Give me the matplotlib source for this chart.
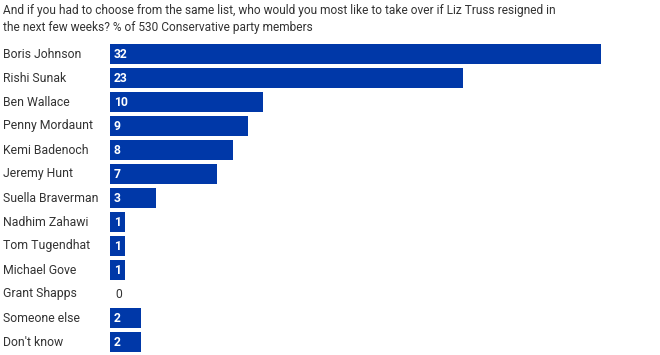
import matplotlib

matplotlib.use("Agg")
import matplotlib.pyplot as plt

names = [
    "Boris Johnson", "Rishi Sunak", "Ben Wallace", "Penny Mordaunt",
    "Kemi Badenoch", "Jeremy Hunt", "Suella Braverman", "Nadhim Zahawi",
    "Tom Tugendhat", "Michael Gove", "Grant Shapps", "Someone else",
    "Don't know",
]
shares = [32, 23, 10, 9, 8, 7, 3, 1, 1, 1, 0, 2, 2]

title = ("And if you had to choose from the same list, who would you most like to take over if Liz Truss resigned in\n"
         "the next few weeks? % of 530 Conservative party members")

plt.rcParams["font.family"] = ["Roboto", "DejaVu Sans"]
W, H = 660, 355
bar_color = "#0038a8"
text_color = "#333333"

fig = plt.figure(figsize=(W / 100, H / 100), dpi=100)
ax = fig.add_axes([110 / W, 1 - 354 / H, 491 / W, 312 / H])
ypos = list(range(len(names)))
ax.barh(ypos, shares, height=0.83, color=bar_color)
ax.set_xlim(0, 32)
ax.set_ylim(len(names) - 0.5, -0.5)
ax.axis("off")

for y, name, v in zip(ypos, names, shares):
    ax.annotate(name, xy=(0, y), xycoords=("axes fraction", "data"),
                xytext=(-107, 0), textcoords="offset pixels",
                ha="left", va="center", fontsize=8.8, color=text_color)
    if v > 0:
        ax.annotate(str(v), xy=(0, y), xytext=(4, 0), textcoords="offset pixels",
                    ha="left", va="center", fontsize=8.7, color="white",
                    fontweight="bold")
    else:
        ax.annotate(str(v), xy=(0, y), xytext=(5, 0), textcoords="offset pixels",
                    ha="left", va="center", fontsize=8.7, color=text_color)

fig.text(3 / W, 1 - 4 / H, title, ha="left", va="top", fontsize=8.6,
         color=text_color, linespacing=1.4)

fig.savefig("out.png", dpi=100)
